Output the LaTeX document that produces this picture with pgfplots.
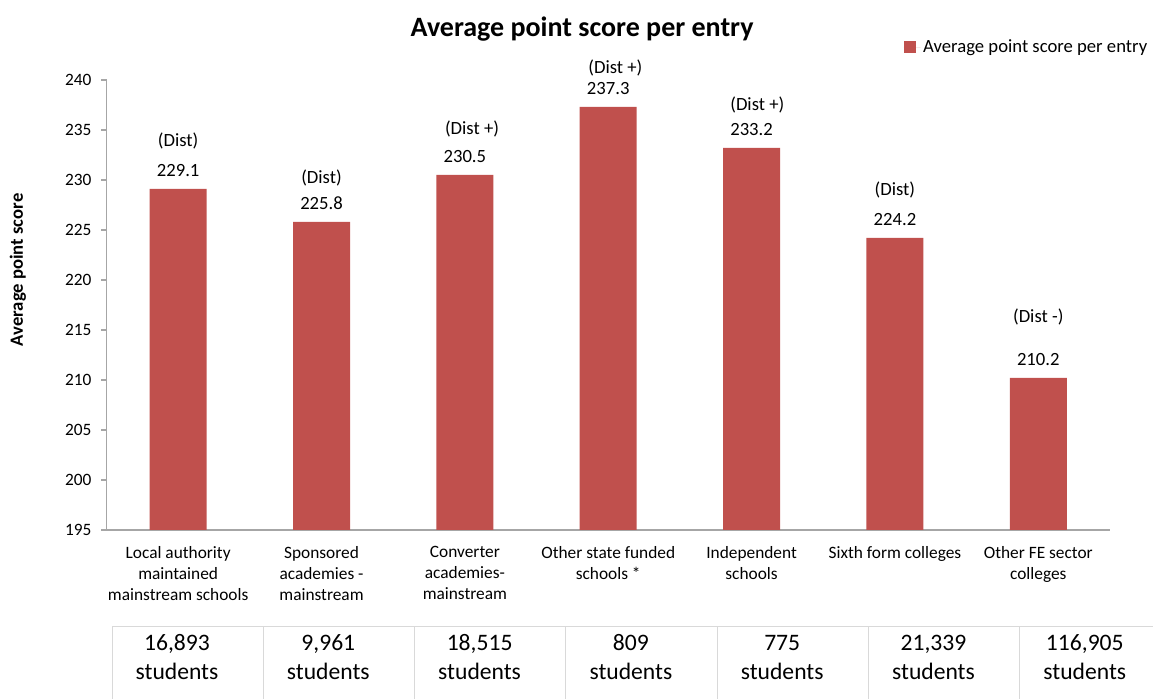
\documentclass[border=0pt]{standalone}
\usepackage{pgfplots}
\pgfplotsset{compat=1.18}
\usepackage{fontspec}
\setmainfont{Carlito}
\definecolor{barred}{HTML}{C0504D}
\definecolor{axgray}{HTML}{A6A6A6}
\definecolor{tabgray}{HTML}{D9D9D9}
\begin{document}
\begin{tikzpicture}
\useasboundingbox (0,0) rectangle (864.75pt,524.25pt);
\begin{axis}[
  at={(79.875pt,126.75pt)}, anchor=south west,
  scale only axis, width=752.6pt, height=337.5pt,
  xmin=-0.5, xmax=6.5, ymin=195, ymax=240,
  ytick={195,200,...,240},
  axis x line*=bottom, axis y line*=left,
  axis line style={axgray, line width=0.9pt, -},
  xtick={0,...,6},
  xticklabels={Local authority\\maintained\\mainstream schools, Sponsored\\academies -\\mainstream, Converter\\academies-\\mainstream, Other state funded\\schools *, Independent\\schools, Sixth form colleges, Other FE sector\\colleges},
  major x tick style={draw=none},
  extra x ticks={-0.5,0.5,...,6.5},
  extra x tick labels={},
  extra x tick style={major tick length=4.5pt, tick style={axgray, line width=0.9pt}},
  tick align=outside,
  major tick length=3.75pt,
  y tick style={axgray, line width=0.9pt},
  xticklabel style={align=center, font=\fontsize{13}{15.6}\selectfont, yshift=-5pt},
  yticklabel style={font=\fontsize{13}{15.6}\selectfont, xshift=-4pt},
  /pgf/number format/assume math mode=true,
  ylabel={Average point score},
  ylabel style={at={(axis description cs:-0.0882,0.578)}, anchor=center, font=\fontsize{14}{16.8}\selectfont\bfseries},
  title={Average point score per entry},
  title style={at={(axis description cs:0.474,1.096)}, anchor=center, font=\fontsize{21}{25}\selectfont\bfseries},
  legend style={at={(axis description cs:1.04,1.073)}, anchor=east, draw=none, fill=none, inner sep=0pt, font=\fontsize{14}{16.8}\selectfont, legend cell align=left},
  clip=false,
  ybar, bar width=42.75pt,
  nodes near coords,
  nodes near coords style={anchor=center, font=\fontsize{14}{16.8}\selectfont, yshift=13.75pt},
  point meta=explicit symbolic,
]
\addplot[fill=barred, draw=none, legend image code/.code={\fill[barred] (0pt,-4.5pt) rectangle (9pt,4.5pt); \path (0pt,0pt) -- (12.5pt,0pt);}] table[meta=lab] {
x y lab
0 229.1 229.1
1 225.8 225.8
2 230.5 230.5
3 237.3 237.3
4 233.2 233.2
5 224.2 224.2
6 210.2 210.2
};
\addlegendentry{Average point score per entry}
\begin{scope}[every node/.style={font=\fontsize{14}{16.8}\selectfont, anchor=center}]
\node at (axis cs:0,233.9) {(Dist)};
\node at (axis cs:1,230.2) {(Dist)};
\node at (axis cs:2.05,235.1) {(Dist +)};
\node at (axis cs:3.05,241.2) {(Dist +)};
\node at (axis cs:4.04,237.5) {(Dist +)};
\node at (axis cs:5,229.0) {(Dist)};
\node at (axis cs:6,216.3) {(Dist -)};
\end{scope}
\end{axis}
% table beneath
\begin{scope}[x=0.75pt,y=0.75pt]
\draw[tabgray, line width=0.75pt] (112,72) -- (1153,72);
\foreach \k in {0,...,6} {
  \draw[tabgray, line width=0.75pt] ({112+151.3*\k},72) -- ({112+151.3*\k},0);
}
\foreach \k/\n in {0/{16,893},1/{9,961},2/{18,515},3/{809},4/{775},5/{21,339},6/{116,905}} {
  \node[align=center, font=\fontsize{17.7}{21.75}\selectfont, inner sep=0pt] at ({177+151.3*\k},41.5) {\n\\students};
}
\end{scope}
\end{tikzpicture}
\end{document}
